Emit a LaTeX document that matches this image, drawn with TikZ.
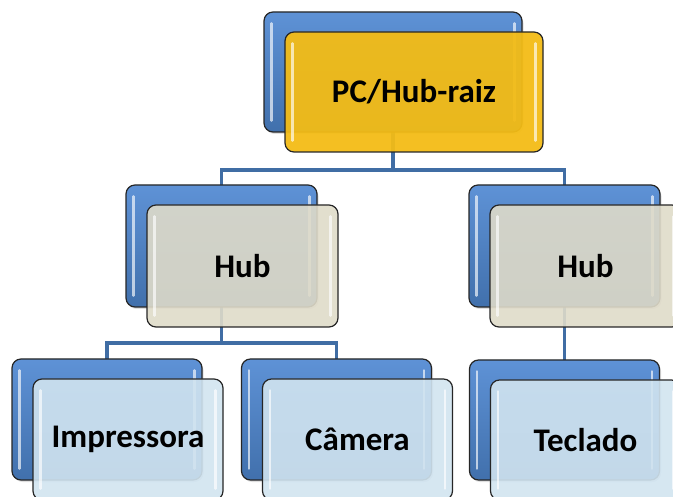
\documentclass[tikz,border=0pt]{standalone}
\usepackage{fontspec}
\setmainfont{Carlito}
\usetikzlibrary{shadows,calc}
\pgfdeclarelayer{bg}
\pgfsetlayers{bg,main}
\definecolor{backtop}{HTML}{5E92D6}
\definecolor{backbot}{HTML}{4170AC}
\definecolor{conncol}{HTML}{406DA4}
\definecolor{goldfill}{HTML}{F3BC16}
\definecolor{tanfill}{HTML}{DFDBC9}
\definecolor{icefill}{HTML}{D1E4F0}
\tikzset{
  card/.style={rounded corners=9pt, draw=black!85, line width=1.2pt, inner sep=0pt},
  backcard/.style={card, top color=backtop, bottom color=backbot,
    drop shadow={opacity=0.25, shadow xshift=1.5pt, shadow yshift=-2pt}},
  frontcard/.style={card, fill opacity=0.9, draw opacity=1, text opacity=1,
    font=\bfseries\fontsize{33}{40}\selectfont},
  goldcard/.style={fill=goldfill, fill opacity=0.95},
  tancard/.style={fill=tanfill},
  icecard/.style={fill=icefill},
  glint/.style={white, line width=2.6pt, line cap=round, opacity=0.65},
  conn/.style={conncol, line width=3.6pt}
}
% white vertical glints along the inner left and right edges of a card
\newcommand\glints[1]{%
  \draw[glint] ($(#1.north west)+(8,12)$) -- ($(#1.south west)+(8,-12)$);
  \draw[glint] ($(#1.north east)+(-8,12)$) -- ($(#1.south east)+(-8,-12)$);
}
% a back card with a front card offset down and right
% #1 name, #2 x, #3 y (back card centre), #4 width, #5 height, #6 front style, #7 label
\newcommand\cardpair[7]{%
  \node[backcard, minimum width=#4pt, minimum height=#5pt] (#1B) at (#2,#3) {};
  \glints{#1B}
  \node[frontcard, #6, minimum width=#4pt, minimum height=#5pt] (#1F) at ($(#1B.center)+(21,20)$) {#7};
  \glints{#1F}
}
\begin{document}
\begin{tikzpicture}[x=1pt,y=-1pt]
  \clip (0,0) rectangle (673,497);

  \cardpair{top}{393}{72}{258}{120}{goldcard}{PC/Hub-raiz}
  \cardpair{hubL}{221.5}{246}{191}{122}{tancard}{Hub}
  \cardpair{hubR}{564.5}{246}{191}{122}{tancard}{Hub}
  \cardpair{impr}{107}{419.5}{190}{121}{icecard}{Impressora}
  \cardpair{cam}{336.5}{419.5}{190}{121}{icecard}{Câmera}
  \cardpair{tec}{564.5}{420}{190}{120}{icecard}{Teclado}

  \begin{pgfonlayer}{bg}
    \coordinate (j1) at (topB.center |- 0,170);
    \coordinate (j2) at (hubLB.center |- 0,343);
    \draw[conn] (topB.center) -- (j1);
    \draw[conn] (hubLB.center) |- (j1) -| (hubRB.center);
    \draw[conn] (hubLB.center) -- (j2);
    \draw[conn] (imprB.center) |- (j2) -| (camB.center);
    \draw[conn] (hubRB.center) -- (tecB.center);
  \end{pgfonlayer}
\end{tikzpicture}
\end{document}
